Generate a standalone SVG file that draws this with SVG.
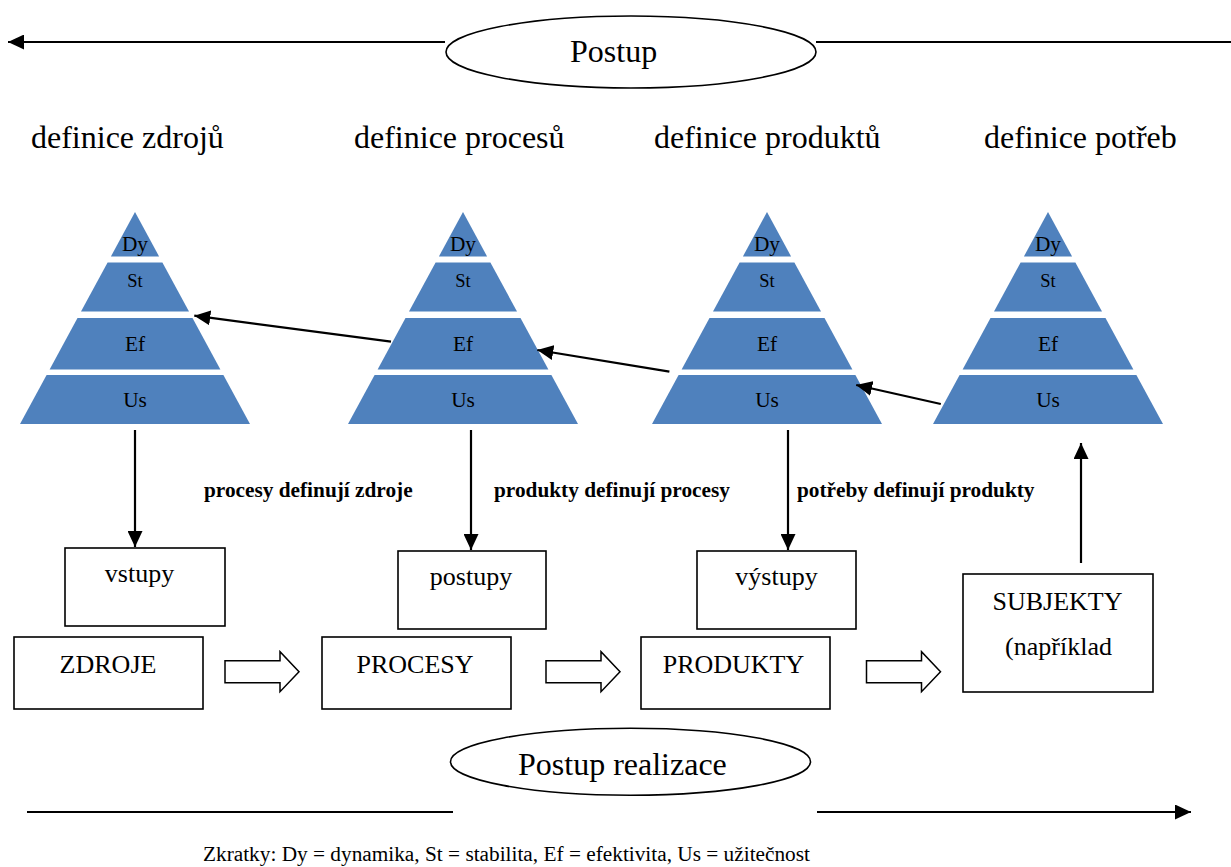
<svg xmlns="http://www.w3.org/2000/svg" width="1231" height="867" viewBox="0 0 1231 867">
<style>
text{font-family:"Liberation Serif","Times New Roman",serif;fill:#000}
.h{font-size:32px}
.bx{font-size:26px;text-anchor:middle}
.lb{font-size:21.3px;font-weight:bold}
.py{font-size:21.3px;text-anchor:middle}
.pys{font-size:18.5px;text-anchor:middle}
.ft{font-size:21.3px}
.box{fill:#fff;stroke:#000;stroke-width:1.6}
.layer{fill:#4F81BD}
.ln{stroke:#000;stroke-width:2.2;fill:none}
.ell{fill:#fff;stroke:#000;stroke-width:1.6}
.blk{fill:#fff;stroke:#000;stroke-width:1.5;stroke-linejoin:miter}
</style>
<defs>
<marker id="ah" markerUnits="userSpaceOnUse" markerWidth="17" markerHeight="15" refX="16" refY="7.5" orient="auto">
<path d="M0,0 L16,7.5 L0,15 z" fill="#000"/>
</marker>
<g id="pyr">
<polygon class="layer" points="0,0 24.1,44.5 -24.1,44.5"/>
<polygon class="layer" points="-27.4,50.5 27.4,50.5 54,99.5 -54,99.5"/>
<polygon class="layer" points="-57.5,106 57.5,106 85.4,157.5 -85.4,157.5"/>
<polygon class="layer" points="-88.4,163 88.4,163 115,212 -115,212"/>
<text class="py" x="0" y="39">Dy</text>
<text class="pys" x="0" y="75">St</text>
<text class="py" x="0" y="138.7">Ef</text>
<text class="py" x="0" y="194.7">Us</text>
</g>
<polygon id="blk" class="blk" points="0,-11 55,-11 55,-20 74,0 55,20 55,11 0,11"/>
</defs>

<g id="connectors">
<line class="ln" x1="445" y1="42" x2="8" y2="42" marker-end="url(#ah)"/>
<line class="ln" x1="816" y1="42" x2="1231" y2="42"/>
<line class="ln" x1="27" y1="812" x2="453" y2="812"/>
<line class="ln" x1="817" y1="812" x2="1191" y2="812" marker-end="url(#ah)"/>
<line class="ln" x1="135" y1="430" x2="135" y2="547" marker-end="url(#ah)"/>
<line class="ln" x1="471" y1="430" x2="471" y2="550" marker-end="url(#ah)"/>
<line class="ln" x1="788" y1="430" x2="788" y2="550" marker-end="url(#ah)"/>
<line class="ln" x1="1081" y1="563" x2="1081" y2="443" marker-end="url(#ah)"/>
</g>

<g id="postup">
<ellipse class="ell" cx="631" cy="52" rx="185" ry="36"/>
<text class="h" x="570" y="62">Postup</text>
</g>

<g id="headings">
<text class="h" x="31" y="148">definice zdrojů</text>
<text class="h" x="354" y="148">definice procesů</text>
<text class="h" x="654" y="148">definice produktů</text>
<text class="h" x="984" y="148">definice potřeb</text>
</g>

<g id="pyramid1"><use href="#pyr" x="135" y="212"/></g>
<g id="pyramid2"><use href="#pyr" x="463" y="212"/></g>
<g id="pyramid3"><use href="#pyr" x="767" y="212"/></g>
<g id="pyramid4"><use href="#pyr" x="1048" y="212"/></g>

<g id="diag-connectors">
<line class="ln" x1="391" y1="341.7" x2="194.3" y2="315.7" marker-end="url(#ah)"/>
<line class="ln" x1="669.4" y1="371.7" x2="537.3" y2="350" marker-end="url(#ah)"/>
<line class="ln" x1="940.8" y1="404" x2="856.2" y2="385" marker-end="url(#ah)"/>
</g>

<g id="labels">
<text class="lb" x="204" y="497">procesy definují zdroje</text>
<text class="lb" x="494" y="497">produkty definují procesy</text>
<text class="lb" x="797" y="497">potřeby definují produkty</text>
</g>

<g id="vstupy"><rect class="box" x="65" y="548" width="160" height="78"/><text class="bx" x="139.5" y="582">vstupy</text></g>
<g id="postupy"><rect class="box" x="398" y="551" width="148" height="78"/><text class="bx" x="471" y="585">postupy</text></g>
<g id="vystupy"><rect class="box" x="697" y="551" width="159" height="78"/><text class="bx" x="776.5" y="585">výstupy</text></g>

<g id="zdroje"><rect class="box" x="14" y="637" width="189" height="72"/><text class="bx" x="108" y="673">ZDROJE</text></g>
<g id="procesy"><rect class="box" x="322" y="637" width="189" height="72"/><text class="bx" x="415" y="673">PROCESY</text></g>
<g id="produkty"><rect class="box" x="641" y="637" width="189" height="72"/><text class="bx" x="733.5" y="673">PRODUKTY</text></g>
<g id="subjekty"><rect class="box" x="963" y="574" width="190" height="118"/><text class="bx" x="1057.5" y="610">SUBJEKTY</text><text class="bx" x="1058.5" y="655">(například</text></g>

<g id="block-arrows">
<use href="#blk" x="225" y="671.7"/>
<use href="#blk" x="546" y="671.7"/>
<use href="#blk" x="866.5" y="671.7"/>
</g>

<g id="realizace">
<ellipse class="ell" cx="630.5" cy="761.7" rx="180" ry="33.5"/>
<text class="h" x="518" y="775">Postup realizace</text>
</g>

<g id="footer">
<text class="ft" x="203" y="861">Zkratky: Dy = dynamika, St = stabilita, Ef = efektivita, Us = užitečnost</text>
</g>
</svg>
